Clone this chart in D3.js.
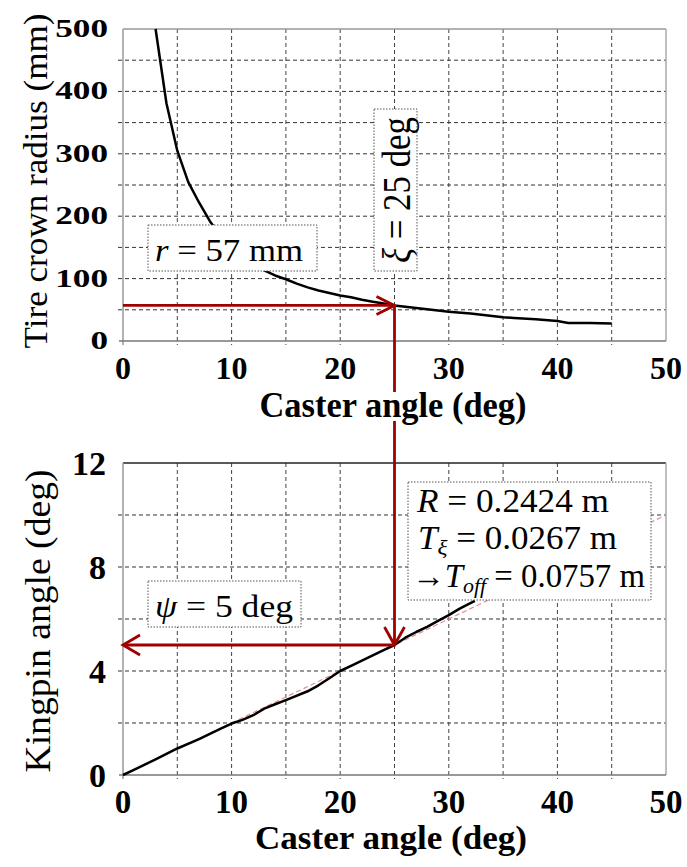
<!DOCTYPE html>
<html><head><meta charset="utf-8">
<script src="https://cdn.jsdelivr.net/npm/d3@7"></script>
<style>
body{margin:0;background:#fff}
svg{display:block}
</style>
</head><body>
<svg id="c" width="687" height="867"></svg>
<script>
// ---- data ----
const casterTop  = [3, 4, 5, 6, 7, 8, 9, 10, 11, 12, 13, 14, 15, 16, 17, 18, 19, 20, 21, 22, 23, 24, 25, 26, 27, 28, 29, 30, 32, 34, 35, 36, 38, 40, 41, 43, 45];
const radiusTop  = [500, 381, 305, 255, 222, 192, 168, 150, 136, 124, 113, 105, 99, 92, 86, 81, 77, 73, 70, 66, 63, 60, 57, 55, 53, 51, 49, 47, 44, 40, 38, 37, 35, 32, 29, 29, 28];
const casterBot  = [0, 1, 2, 3, 5, 7, 9, 10, 11, 12, 13, 14, 15, 17, 18, 19, 20, 21, 22, 23, 24, 25, 26, 27, 28, 29, 30, 31, 32.4];
const kingpinBot = [0, 0.2, 0.4, 0.6, 1.02, 1.38, 1.78, 1.98, 2.12, 2.3, 2.55, 2.72, 2.88, 3.22, 3.45, 3.72, 4.0, 4.2, 4.4, 4.6, 4.8, 5.0, 5.28, 5.5, 5.7, 5.93, 6.15, 6.4, 6.7];
const fitCaster  = [0, 50];
const fitKingpin = [0, 10];
const xTicks     = [0, 10, 20, 30, 40, 50];
const xGrid      = [5, 10, 15, 20, 25, 30, 35, 40, 45];
const yTicksTop  = [0, 100, 200, 300, 400, 500];
const yGridTop   = [50, 100, 150, 200, 250, 300, 350, 400, 450];
const yTicksBot  = [0, 4, 8, 12];
const yGridBot   = [2, 4, 6, 8, 10];
const selCaster = 25, selRadius = 57, selKingpin = 5;
const labelR   = ["R", " = 0.2424 m"];
const labelT   = ["T", "ξ", " = 0.0267 m"];
const labelOff = ["→", "T", "off", " = 0.0757 m"];

// ---- pick an installed serif font ----
function pickFont(cands) {
  const ctx = document.createElement("canvas").getContext("2d");
  const s = "Caster angle (deg) 0123456789 Kingpin";
  for (const c of cands) {
    let diff = false;
    for (const base of ["monospace", "sans-serif"]) {
      ctx.font = `40px ${base}`; const w0 = ctx.measureText(s).width;
      ctx.font = `40px "${c}", ${base}`; const w1 = ctx.measureText(s).width;
      if (Math.abs(w0 - w1) > 0.5) diff = true;
    }
    if (diff) return `"${c}"`;
  }
  return "serif";
}
const FF = pickFont(["Liberation Serif", "Times New Roman", "Tinos", "DejaVu Serif", "Noto Serif", "FreeSerif", "Nimbus Roman", "Nimbus Roman No9 L", "Times"]) + ", serif";

// ---- layout ----
const svg = d3.select("#c");
const L = 123, R = 666;
const xT = d3.scaleLinear().domain([0, 50]).range([L, R]);
const yT = d3.scaleLinear().domain([0, 500]).range([341, 29]);
const xB = d3.scaleLinear().domain([0, 50]).range([L, R]);
const yB = d3.scaleLinear().domain([0, 12]).range([775, 463]);
const RED = "#a00000";

function panel(x, y, yGrid, topColor) {
  const g = svg.append("g");
  const [y0, y1] = y.range();
  g.selectAll(".gx").data(xGrid).join("line")
    .attr("x1", d => x(d)).attr("x2", d => x(d))
    .attr("y1", y1).attr("y2", y0 + 4)
    .attr("stroke", "#444").attr("stroke-width", 1).attr("stroke-dasharray", "4,3");
  g.selectAll(".gy").data(yGrid).join("line")
    .attr("x1", x.range()[0] - 5).attr("x2", x.range()[1])
    .attr("y1", d => y(d)).attr("y2", d => y(d))
    .attr("stroke", "#333").attr("stroke-width", 1).attr("stroke-dasharray", "4,3");
  g.append("line").attr("x1", L).attr("x2", R).attr("y1", y1).attr("y2", y1).attr("stroke", topColor).attr("stroke-width", 1.3);
  g.append("line").attr("x1", R).attr("x2", R).attr("y1", y1).attr("y2", y0).attr("stroke", "#aaa").attr("stroke-width", 1.5);
  g.append("line").attr("x1", L).attr("x2", L).attr("y1", y1).attr("y2", y0 + 4).attr("stroke", "#999").attr("stroke-width", 1.5);
  g.append("line").attr("x1", L - 4).attr("x2", R).attr("y1", y0).attr("y2", y0).attr("stroke", "#777").attr("stroke-width", 1.5);
  return g;
}

const gTop = panel(xT, yT, yGridTop, "#999");
const gBot = panel(xB, yB, yGridBot, "#222");

const lineTop = d3.line().x(d => xT(d[0])).y(d => yT(d[1]));
gTop.append("path").datum(d3.zip(casterTop, radiusTop)).attr("d", lineTop)
  .attr("fill", "none").attr("stroke", "#000").attr("stroke-width", 2.5).attr("stroke-linejoin", "round");

const lineBot = d3.line().x(d => xB(d[0])).y(d => yB(d[1]));
gBot.append("path").datum(d3.zip(fitCaster, fitKingpin)).attr("d", lineBot)
  .attr("fill", "none").attr("stroke", "#e09090").attr("stroke-width", 1.2).attr("stroke-dasharray", "5,3");
gBot.append("path").datum(d3.zip(casterBot, kingpinBot)).attr("d", lineBot)
  .attr("fill", "none").attr("stroke", "#000").attr("stroke-width", 2.5).attr("stroke-linejoin", "round");

function T(sel) { return sel.attr("font-family", FF).attr("fill", "#000"); }

const FONT_B = "bold";
T(svg.selectAll(".txT").data(xTicks).join("text"))
  .attr("x", d => xT(d)).attr("y", 379).attr("text-anchor", "middle")
  .attr("font-size", 32).attr("font-weight", FONT_B).text(d => d);
T(svg.selectAll(".tyT").data(yTicksTop).join("text"))
  .attr("x", 108).attr("y", d => yT(d) + 8).attr("text-anchor", "end")
  .attr("font-size", 25).attr("font-weight", FONT_B)
  .attr("textLength", d => String(d).length * 17.6).attr("lengthAdjust", "spacingAndGlyphs")
  .text(d => d);
T(svg.selectAll(".txB").data(xTicks).join("text"))
  .attr("x", d => xB(d)).attr("y", 813).attr("text-anchor", "middle")
  .attr("font-size", 33).attr("font-weight", FONT_B).text(d => d);
T(svg.selectAll(".tyB").data(yTicksBot).join("text"))
  .attr("x", 106).attr("y", d => yB(d) + 12).attr("text-anchor", "end")
  .attr("font-size", 34).attr("font-weight", FONT_B).text(d => d);

// red arrows
const ax = xT(selCaster), ay = yT(selRadius), by = yB(selKingpin);
const ar = svg.append("g").attr("stroke", RED).attr("stroke-width", 2.8).attr("fill", "none");
ar.append("line").attr("x1", xT(0)).attr("x2", ax).attr("y1", ay).attr("y2", ay);
ar.append("line").attr("x1", ax).attr("x2", ax).attr("y1", ay).attr("y2", by);
ar.append("line").attr("x1", ax).attr("x2", xB(0)).attr("y1", by).attr("y2", by);
ar.append("path").attr("d", `M${ax-18},${ay-9}L${ax},${ay}L${ax-18},${ay+9}`);
ar.append("path").attr("d", `M${ax-10},${by-18}L${ax},${by}L${ax+10},${by-18}`);
ar.append("path").attr("d", `M${xB(0)+17},${by-10}L${xB(0)},${by}L${xB(0)+17},${by+10}`);

// axis titles
const tTitle = T(svg.append("text")).attr("x", 393).attr("y", 417).attr("text-anchor", "middle")
  .attr("font-size", 35).attr("font-weight", "bold").attr("textLength", 267).attr("lengthAdjust", "spacingAndGlyphs")
  .text("Caster angle (deg)");
const bb = tTitle.node().getBBox();
svg.append("rect").attr("x", bb.x).attr("y", bb.y + 6).attr("width", bb.width).attr("height", bb.height - 10).attr("fill", "#fff");
tTitle.raise();
T(svg.append("text")).attr("x", 391).attr("y", 849).attr("text-anchor", "middle")
  .attr("font-size", 34).attr("font-weight", "bold").attr("textLength", 272).attr("lengthAdjust", "spacingAndGlyphs")
  .text("Caster angle (deg)");
T(svg.append("text")).attr("transform", "translate(47,181) rotate(-90)").attr("text-anchor", "middle")
  .attr("font-size", 34).attr("textLength", 335).attr("lengthAdjust", "spacingAndGlyphs")
  .text("Tire crown radius (mm)");
T(svg.append("text")).attr("transform", "translate(50,621) rotate(-90)").attr("text-anchor", "middle")
  .attr("font-size", 36).attr("textLength", 303).attr("lengthAdjust", "spacingAndGlyphs")
  .text("Kingpin angle (deg)");

// annotation boxes
function box(x, y, w, h) {
  svg.append("rect").attr("x", x).attr("y", y).attr("width", w).attr("height", h)
    .attr("fill", "#fff").attr("stroke", "#555").attr("stroke-width", 1).attr("stroke-dasharray", "1.5,1.5");
}
box(148, 225, 169, 46);
const t1 = T(svg.append("text")).attr("x", 155).attr("y", 261).attr("font-size", 31)
  .attr("textLength", 148).attr("lengthAdjust", "spacingAndGlyphs");
t1.append("tspan").attr("font-style", "italic").text("r");
t1.append("tspan").text(` = ${selRadius} mm`);

box(374, 109, 43, 162);
const t2 = T(svg.append("text")).attr("transform", "translate(410,190) rotate(-90)").attr("text-anchor", "middle")
  .attr("font-size", 40).attr("textLength", 146).attr("lengthAdjust", "spacingAndGlyphs");
t2.append("tspan").attr("font-style", "italic").text("ξ");
t2.append("tspan").text(` = ${selCaster} deg`);

box(148, 581, 153, 46);
const t3 = T(svg.append("text")).attr("x", 155).attr("y", 617).attr("font-size", 31)
  .attr("textLength", 138).attr("lengthAdjust", "spacingAndGlyphs");
t3.append("tspan").attr("font-style", "italic").text("ψ");
t3.append("tspan").text(` = ${selKingpin} deg`);

box(408, 482, 243, 118);
const l1 = T(svg.append("text")).attr("x", 417).attr("y", 512).attr("font-size", 33)
  .attr("textLength", 192).attr("lengthAdjust", "spacingAndGlyphs");
l1.append("tspan").attr("font-style", "italic").text(labelR[0]);
l1.append("tspan").text(labelR[1]);
const l2 = T(svg.append("text")).attr("x", 418).attr("y", 549).attr("font-size", 33)
  .attr("textLength", 199).attr("lengthAdjust", "spacingAndGlyphs");
l2.append("tspan").attr("font-style", "italic").text(labelT[0]);
l2.append("tspan").attr("font-style", "italic").attr("font-size", 22).attr("dy", 6).text(labelT[1]);
l2.append("tspan").attr("dy", -6).text(labelT[2]);
const l3 = T(svg.append("text")).attr("x", 412).attr("y", 587).attr("font-size", 33)
  .attr("textLength", 233).attr("lengthAdjust", "spacingAndGlyphs");
l3.append("tspan").text(labelOff[0]);
l3.append("tspan").attr("font-style", "italic").text(labelOff[1]);
l3.append("tspan").attr("font-style", "italic").attr("font-size", 22).attr("dy", 6).text(labelOff[2]);
l3.append("tspan").attr("dy", -6).text(labelOff[3]);
</script>
</body></html>
